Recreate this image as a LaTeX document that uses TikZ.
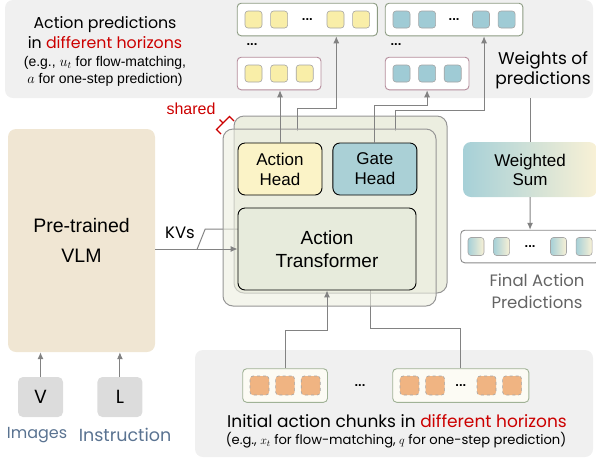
\documentclass[tikz,border=0pt]{standalone}
\usepackage{fontspec}
\setmainfont{Liberation Sans}
\newfontfamily\comicfont{Poppins}
\usetikzlibrary{arrows.meta, positioning, fit, backgrounds, calc}
\pgfdeclarelayer{behind}
\pgfsetlayers{background,behind,main}
\definecolor{panelgray}{RGB}{240,240,240}
\definecolor{shellfill}{RGB}{236,238,224}
\definecolor{shellline}{RGB}{150,150,150}
\definecolor{vlmfill}{RGB}{240,230,211}
\definecolor{aheadfill}{RGB}{251,243,199}
\definecolor{gheadfill}{RGB}{170,208,214}
\definecolor{transfill}{RGB}{231,235,220}
\definecolor{yellowsq}{RGB}{249,238,168}
\definecolor{bluesq}{RGB}{159,203,213}
\definecolor{orangesq}{RGB}{240,180,130}
\definecolor{sqline}{RGB}{165,165,165}
\definecolor{rowgreen}{RGB}{140,155,130}
\definecolor{rowpink}{RGB}{180,140,155}
\definecolor{initline}{RGB}{160,178,150}
\definecolor{finalline}{RGB}{138,138,138}
\definecolor{arrowgray}{RGB}{130,130,130}
\definecolor{hlred}{RGB}{204,0,0}
\definecolor{slate}{RGB}{90,115,145}
\definecolor{tokgray}{RGB}{220,220,220}
\definecolor{finalgray}{RGB}{100,100,100}
\definecolor{wteal}{RGB}{166,208,215}
\definecolor{wmid}{RGB}{226,234,216}
\definecolor{wcream}{RGB}{249,241,214}
\tikzset{
    shell/.style={rectangle, draw=shellline, fill=shellfill, rounded corners=10pt,
        line width=1pt, minimum width=213pt, minimum height=177pt},
    head/.style={rectangle, draw=black, rounded corners=7pt, line width=0.9pt,
        minimum width=84pt, minimum height=52pt, align=center, font=\fontsize{17}{20}\selectfont},
    vlmbox/.style={rectangle, fill=vlmfill, rounded corners=8pt, minimum width=147pt,
        minimum height=223pt, align=center, font=\fontsize{19.5}{30}\selectfont},
    tok/.style={rectangle, fill=tokgray, rounded corners=5pt, minimum width=45pt,
        minimum height=40pt, font=\comicfont\fontsize{19}{19}\selectfont},
    sq/.style={rectangle, minimum size=17pt, inner sep=0pt, rounded corners=3pt,
        draw=sqline, line width=0.6pt},
    ysqr/.style={sq, fill=yellowsq},
    bsqr/.style={sq, fill=bluesq},
    osqr/.style={sq, fill=orangesq, dashed, minimum size=19pt},
    gsqr/.style={sq, minimum width=16pt, minimum height=18pt, left color=wteal, right color=wcream},
    rowbox/.style={rectangle, draw=rowgreen, fill=white, rounded corners=4pt,
        line width=0.9pt, inner sep=7.5pt},
    dots/.style={inner sep=0pt, font=\bfseries\fontsize{13}{13}\selectfont},
    comic/.style={align=center, font=\comicfont\fontsize{15.8}{20}\selectfont},
    arrow/.style={-{Latex[length=7pt,width=6pt]}, draw=arrowgray, line width=1pt},
    link/.style={draw=arrowgray, line width=1pt}
}

\begin{document}
\begin{tikzpicture}[x=1pt, y=-1pt]
    \useasboundingbox (0,0) rectangle (596,459);

    \begin{scope}[on background layer]
        \fill[panelgray, rounded corners=8pt] (5,0) rectangle (593,98);
        \fill[panelgray, rounded corners=8pt] (195,350) rectangle (593,457);
    \end{scope}

    % predictions of the two heads
    \node[comic] (predtitle) at (105,33) {Action predictions\\in \textcolor{hlred}{different horizons}};
    \node[align=center, font=\fontsize{14}{17}\selectfont] (prednote) at (105,71.5) {(e.g., $u_t$ for flow-matching,\\$a$ for one-step prediction)};

    \node[ysqr] (y1) at (253.5,19.5) {};
    \node[ysqr, right=8pt of y1] (y2) {};
    \node[ysqr] (y3) at (335.5,19.5) {};
    \node[ysqr, right=8pt of y3] (y4) {};
    \node[dots] (ydots) at ($(y2)!0.5!(y3)$) {...};
    \node[dots] (ydots2) at (252,45) {...};
    \node[ysqr] (ys1) at (253.5,73.5) {};
    \node[ysqr, right=8pt of ys1] (ys2) {};
    \node[ysqr, right=8pt of ys2] (ys3) {};

    \node[bsqr] (b1) at (401.5,19.5) {};
    \node[bsqr, right=8pt of b1] (b2) {};
    \node[bsqr] (b3) at (481,19.5) {};
    \node[bsqr, right=8pt of b3] (b4) {};
    \node[dots] (bdots) at ($(b2)!0.5!(b3)$) {...};
    \node[dots] (bdots2) at (396,45) {...};
    \node[bsqr] (bs1) at (401.5,73.5) {};
    \node[bsqr, right=8pt of bs1] (bs2) {};
    \node[bsqr, right=8pt of bs2] (bs3) {};

    \node[comic, font=\comicfont\fontsize{17}{20}\selectfont] (wlbl) at (543,70) {Weights of\\predictions};

    % final predictions
    \node[gsqr] (g1) at (476,246.5) {};
    \node[gsqr, right=9pt of g1] (g2) {};
    \node[gsqr] (g3) at (558.5,246.5) {};
    \node[gsqr, right=9pt of g3] (g4) {};
    \node[dots] (gdots) at ($(g2)!0.5!(g3)$) {...};
    \node[comic, text=finalgray, font=\comicfont\fontsize{16.5}{22}\selectfont] (finallbl) at (537,291) {Final Action\\Predictions};

    % initial chunks
    \node[osqr] (o1) at (259.5,385.5) {};
    \node[osqr, right=6pt of o1] (o2) {};
    \node[osqr, right=6pt of o2] (o3) {};
    \node[osqr] (o4) at (409.5,385.5) {};
    \node[osqr, right=6pt of o4] (o5) {};
    \node[osqr] (o6) at (486.5,385.5) {};
    \node[osqr, right=6pt of o6] (o7) {};
    \node[dots] (odots) at ($(o5)!0.5!(o6)$) {...};
    \node[dots] (odots2) at (360,386) {...};
    \node[comic, font=\comicfont\fontsize{17}{20}\selectfont] (initlbl) at (397,421) {Initial action chunks in \textcolor{hlred}{different horizons}};
    \node[comic, font=\comicfont\fontsize{13.1}{16}\selectfont] (initnote) at (396,440) {(e.g., $x_t$ for flow-matching, $q$ for one-step prediction)};

    \begin{scope}[on background layer]
        \node[rowbox, fit=(y1)(y4)] (ybig) {};
        \node[rowbox, draw=rowpink, fit=(ys1)(ys3)] (ysmall) {};
        \node[rowbox, fit=(b1)(b4)] (bbig) {};
        \node[rowbox, draw=rowpink, fit=(bs1)(bs3)] (bsmall) {};
        \node[rowbox, draw=finalline, inner sep=7pt, fit=(g1)(g4)] (final) {};
        \node[rowbox, draw=initline, fill=white!97!olive, inner sep=7pt, fit=(o1)(o3)] (ic1) {};
        \node[rowbox, draw=initline, fill=white!97!olive, inner sep=7pt, fit=(o4)(o7)] (ic2) {};
    \end{scope}

    % shared action expert
    \node[shell, fill opacity=0.6] (frshell) at (329.5,217.5) {};
    \node[head, fill=aheadfill] (ahead) at (280,169) {Action\\Head};
    \node[head, fill=gheadfill, right=10pt of ahead] (ghead) {Gate\\Head};
    \node[head, fill=transfill, minimum width=178pt, minimum height=82pt,
        font=\fontsize{19}{23}\selectfont] (atrans) at (327,249) {Action\\Transformer};

    \node[vlmbox] (vlm) at (81.5,240.5) {Pre-trained\\VLM};
    \node[tok] (vtok) at (40.5,397) {V};
    \node[tok, right=34pt of vtok] (ltok) {L};
    \node[comic, text=slate, font=\comicfont\fontsize{16}{20}\selectfont] (vname) at (37,435) {Images};
    \node[comic, text=slate, font=\comicfont\fontsize{17.5}{20}\selectfont] (lname) at (125,435) {Instruction};

    \node[comic, font=\comicfont\fontsize{16.5}{20}\selectfont] (kvlbl) at (180,233) {KVs};
    \node[text=hlred, font=\fontsize{16}{16}\selectfont] (sharedlbl) at (191,109) {shared};
    \draw[hlred, line width=1.1pt] (221,134) -- (216.5,129.5) -- (229.5,116.5) -- (234,121);
    \draw[hlred, line width=1.1pt] (223,123) -- (219.5,119.5);

    \coordinate (yin) at ($(ybig.south)+(29,0)$);
    \coordinate (bin) at ($(bbig.south)+(30,0)$);
    \coordinate (kvsplit) at ($(atrans.west -| vlm.east)+(42,0)$);
    \coordinate (bkkv) at ($(atrans.west)+(12,-20)$);
    \coordinate (bkin) at ($(atrans.south)+(43,-13)$);
    \coordinate (wsrc) at (530,98);

    \node[rectangle, rounded corners=8pt, minimum width=134pt, minimum height=55pt,
        left color=wteal, middle color=wmid, right color=wcream, align=center,
        font=\fontsize{17}{19}\selectfont] (wsum) at (530,169.5) {Weighted\\Sum};

    % the second copy of the expert, seen through the first
    \begin{pgfonlayer}{behind}
        \node[shell] (bkshell) at (340.5,204.5) {};
        \coordinate (bk1) at (297,131);
        \coordinate (bk2) at (395,131);
        \draw[arrow] (bk1) |- ([yshift=-72pt]yin) -- (yin);
        \draw[arrow] (bk2) |- ([yshift=-74pt]bin) -- (bin);
        \draw[arrow] (kvsplit) -- ++(8,-20) -- (bkkv);
        \draw[arrow] (ic2.north) |- ([yshift=-51pt]bkin) -- (bkin);
    \end{pgfonlayer}

    \draw[arrow] (ahead.north) -- (ahead.north |- ysmall.south);
    \draw[arrow] (ghead.north) |- ([yshift=-15pt]bsmall.south) -- (bsmall.south);
    \draw[arrow] (atrans.west -| vlm.east) -- (atrans.west);
    \draw[arrow] (ic1.north) |- ([yshift=-40pt]atrans.south) -- (atrans.south);
    \draw[arrow] (vtok) -- (vtok |- vlm.south);
    \draw[arrow] (ltok) -- (ltok |- vlm.south);
    \draw[link] (wsrc) -- (wsrc |- wsum.north);
    \draw[arrow] (wsum) -- (final);

\end{tikzpicture}
\end{document}
